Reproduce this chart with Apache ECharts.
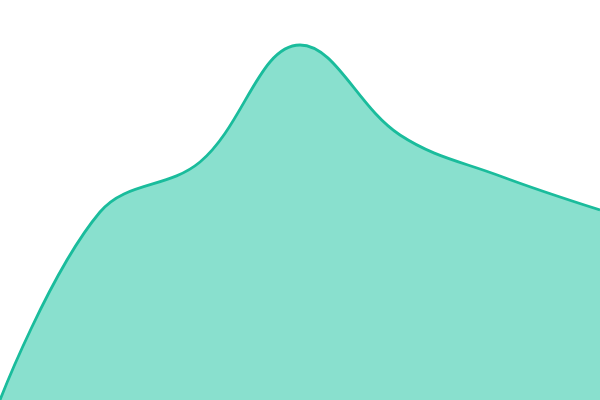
<!DOCTYPE html>
<html>
<head>
<meta charset="utf-8">
<script src="https://cdn.jsdelivr.net/npm/echarts@6/dist/echarts.min.js"></script>
<style>html,body{margin:0;padding:0;background:#fff}#c{width:600px;height:400px}</style>
</head>
<body>
<div id="c"></div>
<script>
const categories = ['1','2','3','4','5','6','7'];
const values = [0, 188, 238, 355, 265, 224, 190];
const chart = echarts.init(document.getElementById('c'), null, {renderer:'canvas'});
chart.setOption({
  animation:false,
  grid:{left:0,right:0,top:0,bottom:0},
  xAxis:{type:'category',data:categories,boundaryGap:false,show:false},
  yAxis:{type:'value',min:0,max:400,show:false},
  series:[{
    type:'line',data:values,smooth:0.38,showSymbol:false,symbol:'none',
    lineStyle:{color:'#1abc9c',width:2.8},
    areaStyle:{color:'#89e0ce',opacity:1}
  }]
});
</script>
</body>
</html>
